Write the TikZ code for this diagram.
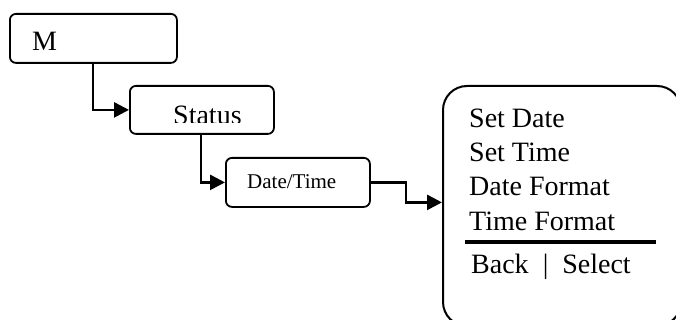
\documentclass[tikz,border=0pt]{standalone}
\usepackage{fontspec}
\setmainfont{Liberation Serif}
\usetikzlibrary{arrows.meta}
\tikzset{
  menubox/.style={draw, line width=1.8pt, rounded corners=6pt, inner sep=0pt, anchor=north west},
  conn/.style={line width=2.6pt, -{Triangle[length=15pt,width=15pt]}},
  bigtxt/.style={font=\fontsize{28}{30}\selectfont, inner sep=0pt, anchor=base west},
  smalltxt/.style={font=\fontsize{21}{24}\selectfont, inner sep=0pt, anchor=base west},
}
\begin{document}
\begin{tikzpicture}[x=1pt,y=-1pt]
\useasboundingbox (0,0) rectangle (676,320);
% boxes
\node[menubox, minimum width=167pt, minimum height=49pt] (m) at (9,13) {};
\node[menubox, minimum width=144pt, minimum height=48pt] (status) at (129,85) {};
\node[menubox, minimum width=144pt, minimum height=49pt] (dt) at (225,157) {};
\node[draw, line width=2pt, rounded corners=24pt, inner sep=0pt, anchor=north west,
      minimum width=238pt, minimum height=240pt] (menu) at (442,85) {};
% texts
\node[bigtxt] (mt) at (32,51) {M};
\begin{scope}
  \clip (129,85) rectangle (273,122.8);
  \node[bigtxt] (st) at (173,125) {Status};
\end{scope}
\node[smalltxt] (dtt) at (247,189) {Date/Time};
\node[bigtxt] (l1) at (469,128) {Set Date};
\node[bigtxt] (l2) at (469,162) {Set Time};
\node[bigtxt] (l3) at (469,196) {Date Format};
\node[bigtxt] (l4) at (469,230) {Time Format};
\node[bigtxt] (l5) at (471,273) {Back \ | \ Select};
\coordinate (r1) at (465,242);
\coordinate (r2) at (656,242);
\draw[line width=3.6pt] (r1) -- (r2);
% connectors
\draw[conn] (m.south west) ++(84,0) |- (status.west);
\draw[conn] (status.south west) ++(72,0) |- (dt.west);
\draw[conn] (dt.east) -- ++(35,0) |- ([yshift=-20pt]menu.west |- dt.east);
\end{tikzpicture}
\end{document}
